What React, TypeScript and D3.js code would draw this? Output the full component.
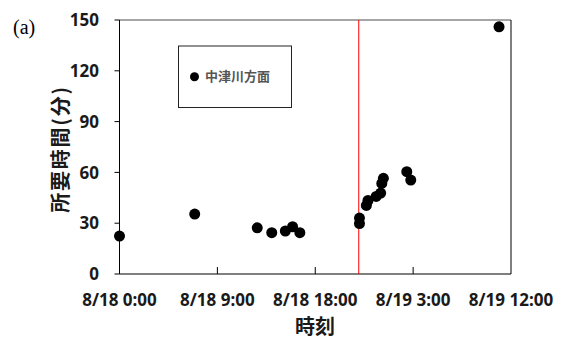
import React from "react";
import * as d3 from "d3";

const times = [
  "2019-08-18T00:00", "2019-08-18T06:55", "2019-08-18T12:40", "2019-08-18T14:00",
  "2019-08-18T15:15", "2019-08-18T15:55", "2019-08-18T16:35", "2019-08-18T22:04",
  "2019-08-18T22:04", "2019-08-18T22:42", "2019-08-18T22:51", "2019-08-18T23:36",
  "2019-08-19T00:01", "2019-08-19T00:07", "2019-08-19T00:16", "2019-08-19T02:25",
  "2019-08-19T02:47", "2019-08-19T10:54",
];
const values = [22.4, 35.4, 27.3, 24.4, 25.4, 27.9, 24.4, 29.8, 33.0, 40.5, 43.4, 45.8, 47.8, 53.5, 56.5, 60.4, 55.5, 146];
const xTickDates = ["2019-08-18T00:00", "2019-08-18T09:00", "2019-08-18T18:00", "2019-08-19T03:00", "2019-08-19T12:00"];
const xTickLabels = ["8/18 0:00", "8/18 9:00", "8/18 18:00", "8/19 3:00", "8/19 12:00"];
const yTicks = [0, 30, 60, 90, 120, 150];
const markerTime = "2019-08-18T22:00";
const seriesName = "中津川方面";
const yTitle = "所要時間(分)";
const xTitle = "時刻";

export default function App() {
  const W = 568, H = 338;
  const left = 119.5, right = 511, top = 20, bottom = 274;
  const parse = (s: string) => new Date(s);
  const x = d3.scaleTime()
    .domain([parse(xTickDates[0]), parse(xTickDates[xTickDates.length - 1])])
    .range([left, right]);
  const y = d3.scaleLinear().domain([0, 150]).range([bottom, top]);
  const font = "'Noto Sans', 'Noto Sans CJK JP', sans-serif";
  const cjk = "'Noto Sans CJK JP', sans-serif";
  const txt = "#1a1a1a";

  return (
    <svg width={W} height={H} style={{ position: "absolute", left: 0, top: 0, background: "#fff" }}>
      <rect x={0} y={0} width={W} height={H} fill="#fff" />
      {/* top and right borders */}
      <line x1={left} x2={right} y1={top} y2={top} stroke="#888" strokeWidth={1.5} />
      <line x1={right} x2={right} y1={top} y2={bottom} stroke="#000" strokeWidth={1} />
      {/* axes */}
      <line x1={left} x2={left} y1={top} y2={bottom} stroke="#000" strokeWidth={1} />
      <line x1={left} x2={right} y1={bottom} y2={bottom} stroke="#000" strokeWidth={1} />
      {yTicks.map((t) => (
        <g key={t}>
          <line x1={left - 5} x2={left} y1={y(t)} y2={y(t)} stroke="#000" />
          <text x={99} y={y(t)} dy="0.36em" textAnchor="end" fontFamily={font} fontWeight="bold" fontSize={17} fill={txt}>{t}</text>
        </g>
      ))}
      {xTickDates.map((d, i) => (
        <g key={d}>
          {i > 0 && i < xTickDates.length - 1 && (
            <line x1={x(parse(d))} x2={x(parse(d))} y1={bottom} y2={bottom - 7} stroke="#000" />
          )}
          <text x={x(parse(d))} y={305.5} textAnchor="middle" fontFamily={font} fontWeight="bold" fontSize={17} fill={txt}>{xTickLabels[i]}</text>
        </g>
      ))}
      {/* red vertical marker */}
      <line x1={x(parse(markerTime))} x2={x(parse(markerTime))} y1={top} y2={bottom} stroke="#ff0000" strokeWidth={1} />
      {/* points */}
      {times.map((t, i) => (
        <circle key={i} cx={x(parse(t))} cy={y(values[i])} r={5.5} fill="#000" />
      ))}
      {/* legend */}
      <rect x={178.5} y={46} width={113} height={61.5} fill="#fff" stroke="#222" strokeWidth={1} />
      <circle cx={194.5} cy={76.7} r={4.5} fill="#000" />
      <text x={205} y={76.7} dy="0.36em" fontFamily={cjk} fontWeight="bold" fontSize={13} fill="#555">{seriesName}</text>
      {/* titles */}
      <text transform={`translate(67.5,149) rotate(-90)`} textAnchor="middle" letterSpacing={1.8} fontFamily={cjk} fontWeight="bold" fontSize={20} fill={txt}>{yTitle}</text>
      <text x={315} y={333.5} textAnchor="middle" fontFamily={cjk} fontWeight="bold" fontSize={20} fill={txt}>{xTitle}</text>
      <text x={13} y={34} fontFamily="'Liberation Serif', 'Times New Roman', serif" fontSize={20} fill="#000">(a)</text>
    </svg>
  );
}
